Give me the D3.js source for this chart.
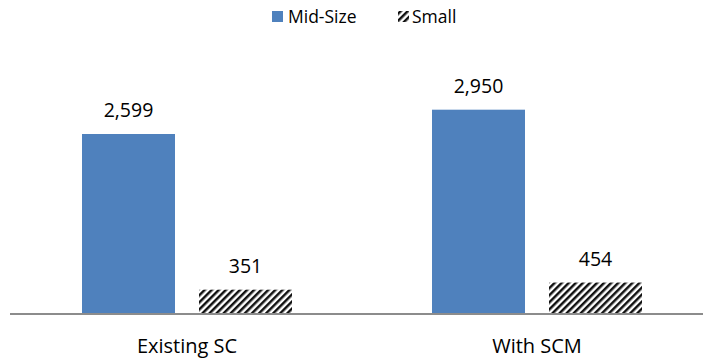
<!DOCTYPE html>
<html>
<head>
<meta charset="utf-8">
<script src="https://cdn.jsdelivr.net/npm/d3@7"></script>
<style>
  html, body { margin: 0; padding: 0; background: #fff; }
  svg { display: block; font-family: "Open Sans", "Noto Sans", sans-serif; }
</style>
</head>
<body>
<svg id="chart" width="703" height="360"></svg>
<script>
// Scenario totals by vehicle class
const categories = ["Existing SC", "With SCM"];
const seriesNames = ["Mid-Size", "Small"];
const midSize = [2599, 2950];
const small = [351, 454];

const rows = categories.map((c, i) => ({ category: c, values: [midSize[i], small[i]] }));

const W = 703, H = 360;
const baseline = 314;
const svg = d3.select("#chart");

// Hatched fill for the "Small" series
const defs = svg.append("defs");
const pat = defs.append("pattern")
  .attr("id", "hatch")
  .attr("patternUnits", "userSpaceOnUse")
  .attr("width", 5).attr("height", 5)
  .attr("patternTransform", "rotate(45)");
pat.append("rect").attr("width", 5).attr("height", 5).attr("fill", "#fff");
pat.append("rect").attr("width", 2.5).attr("height", 5).attr("fill", "#111");

const x0 = d3.scaleBand().domain(categories).range([12, 712]).padding(0);
const x1 = d3.scaleBand().domain(seriesNames).range([70, 280]).paddingInner(24 / 117).paddingOuter(0);
const y = d3.scaleLinear().domain([0, 3000]).range([baseline, baseline - 3000 * (180 / 2599)]);

const fills = { "Mid-Size": "#4F81BD", "Small": "url(#hatch)" };
const fmt = d3.format(",");

const groups = svg.append("g").selectAll("g")
  .data(rows).join("g")
  .attr("transform", d => `translate(${x0(d.category)},0)`);

const bars = groups.selectAll("g.bar")
  .data(d => seriesNames.map((s, j) => ({ series: s, value: d.values[j] })))
  .join("g").attr("class", "bar");

bars.append("rect")
  .attr("x", d => x1(d.series))
  .attr("y", d => y(d.value))
  .attr("width", x1.bandwidth())
  .attr("height", d => baseline - y(d.value))
  .attr("fill", d => fills[d.series]);

bars.append("text")
  .attr("x", d => x1(d.series) + x1.bandwidth() / 2)
  .attr("y", d => y(d.value) - 17)
  .attr("text-anchor", "middle")
  .attr("font-size", 19.5)
  .attr("fill", "#000")
  .text(d => fmt(d.value));

// Category axis
const axis = svg.append("g").attr("transform", `translate(0,${baseline})`)
  .call(d3.axisBottom(x0).tickSize(0).tickPadding(0));
axis.select(".domain").attr("stroke", "#8c8c8c").attr("stroke-width", 2)
  .attr("d", `M10,0H${W}`);
axis.selectAll(".tick text")
  .attr("font-family", "Open Sans, sans-serif")
  .attr("font-size", 20)
  .attr("fill", "#000")
  .attr("dy", null)
  .attr("y", 39);

// Legend
const legendItems = [
  { name: "Mid-Size", x: 272, textX: 288 },
  { name: "Small", x: 398, textX: 412 }
];
const legend = svg.append("g");
const li = legend.selectAll("g").data(legendItems).join("g");
li.append("rect")
  .attr("x", d => d.x).attr("y", 11)
  .attr("width", 11).attr("height", 11)
  .attr("fill", d => fills[d.name]);
li.append("text")
  .attr("x", d => d.textX).attr("y", 23)
  .attr("font-size", 17.5)
  .attr("fill", "#000")
  .text(d => d.name);
</script>
</body>
</html>
